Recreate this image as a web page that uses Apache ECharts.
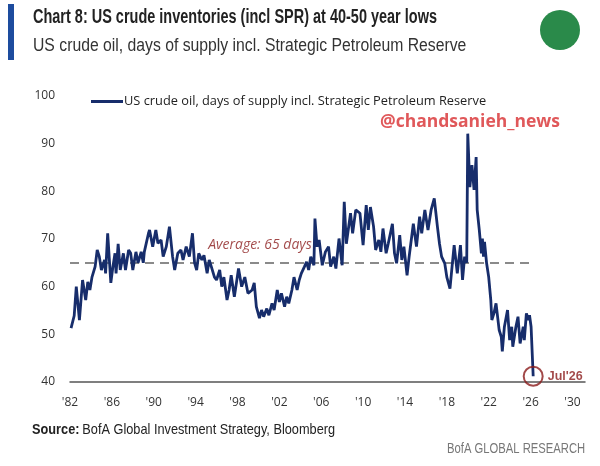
<!DOCTYPE html>
<html>
<head>
<meta charset="utf-8">
<script src="https://cdn.jsdelivr.net/npm/echarts@6/dist/echarts.min.js"></script>
<style>
html,body{margin:0;padding:0;background:#fff;}
#chart{width:600px;height:466px;}
</style>
</head>
<body>
<div id="chart"></div>
<script>
// ---- Data ----
const seriesName = "US crude oil, days of supply incl. Strategic Petroleum Reserve";
const startYear = 1982;
const tickYears = [1982, 1986, 1990, 1994, 1998, 2002, 2006, 2010, 2014, 2018, 2022, 2026, 2030];
const yTicks = [40, 50, 60, 70, 80, 90, 100];
const averageDays = 65;
const averageEndYear = 2026.3;
const endLabel = "Jul'26";

const years = [
  1982.1,1982.4,1982.6,1982.9,1983.2,1983.5,1983.7,1983.9,1984.1,1984.4,1984.6,1984.8,
  1985.0,1985.3,1985.4,1985.6,1985.9,1986.1,1986.3,1986.4,1986.6,1986.8,1987.1,1987.3,
  1987.6,1987.8,1988.0,1988.3,1988.5,1988.8,1989.0,1989.1,1989.5,1989.6,1989.9,1990.2,
  1990.4,1990.7,1990.9,1991.2,1991.5,1991.8,1992.0,1992.3,1992.6,1992.8,1993.1,1993.4,
  1993.7,1993.9,1994.1,1994.3,1994.6,1994.8,1995.1,1995.3,1995.5,1995.8,1996.0,1996.3,
  1996.5,1996.7,1997.0,1997.2,1997.4,1997.7,1997.9,1998.1,1998.4,1998.7,1999.0,1999.4,
  1999.6,1999.8,2000.1,2000.3,2000.5,2000.8,2001.0,2001.3,2001.5,2001.8,2002.0,2002.2,
  2002.5,2002.7,2002.9,2003.2,2003.4,2003.7,2003.9,2004.1,2004.4,2004.6,2004.8,2005.0,
  2005.3,2005.4,2005.6,2005.8,2006.1,2006.4,2006.7,2006.9,2007.2,2007.4,2007.7,2008.0,
  2008.2,2008.4,2008.8,2009.0,2009.3,2009.7,2010.0,2010.3,2010.5,2010.7,2011.0,2011.2,
  2011.5,2011.7,2011.9,2012.2,2012.4,2012.8,2013.0,2013.2,2013.5,2013.7,2013.9,2014.2,
  2014.4,2014.8,2015.1,2015.4,2015.6,2015.9,2016.2,2016.5,2016.8,2017.1,2017.3,2017.5,
  2017.8,2018.0,2018.3,2018.5,2018.7,2019.0,2019.3,2019.5,2019.7,2019.9,2020.0,2020.2,
  2020.4,2020.6,2020.8,2020.9,2021.1,2021.3,2021.4,2021.5,2021.6,2021.8,2022.0,2022.2,
  2022.3,2022.5,2022.7,2023.0,2023.2,2023.3,2023.5,2023.8,2024.0,2024.2,2024.3,2024.6,
  2024.8,2025.0,2025.3,2025.4,2025.6,2025.8,2025.9,2026.05,2026.25
];
const daysOfSupply = [
  51.3,53.9,60.0,53.0,61.4,57.2,61.0,59.3,62.0,64.2,67.7,66.3,
  63.5,65.6,62.8,71.2,60.8,64.2,67.0,62.8,69.0,63.5,67.0,63.5,
  67.7,67.0,63.5,67.3,65.0,67.3,65.0,67.3,71.2,71.9,68.4,71.9,
  69.1,69.8,66.3,68.4,72.6,66.3,63.5,67.0,67.7,65.6,68.4,66.3,
  71.2,65.0,63.5,67.0,65.6,66.6,62.8,65.6,64.2,62.0,61.4,63.5,
  60.0,62.0,57.2,59.3,62.4,57.9,60.8,63.8,60.0,62.0,58.6,59.3,
  60.8,55.8,53.4,55.1,53.7,55.4,54.0,56.5,55.1,59.3,56.8,58.6,
  55.8,57.9,56.5,59.3,62.0,59.3,61.4,62.8,64.2,65.2,63.5,66.3,
  64.5,74.3,68.4,69.8,64.5,67.3,68.4,64.2,66.3,63.8,70.1,64.5,
  77.8,69.0,75.4,71.2,76.1,75.4,68.7,77.1,71.9,76.7,72.6,67.7,
  69.8,67.3,72.2,67.0,69.0,73.2,67.0,64.9,70.8,65.6,68.4,62.4,
  66.3,73.2,68.4,74.7,71.2,76.1,71.9,76.1,78.5,72.6,69.0,66.3,
  64.9,62.0,59.6,64.2,68.7,62.8,68.7,61.4,66.3,65.0,92.1,80.9,
  85.5,80.3,87.2,76.1,71.9,67.0,70.1,66.3,69.4,64.9,62.0,57.2,
  53.0,54.4,56.5,50.9,49.5,46.4,51.6,55.1,48.8,51.6,47.4,51.6,
  53.7,48.1,51.6,48.8,54.4,53.0,54.0,51.6,41.2
];

// ---- Build chart ----
const toX = y => y - startYear;
const lineData = years.map((y, i) => [toX(y), daysOfSupply[i]]);
const last = lineData[lineData.length - 1];
const tickSet = new Set(tickYears.map(toX));

const sans = '"Liberation Sans", Arial, sans-serif';
const chart = echarts.init(document.getElementById('chart'), null, {renderer: 'canvas'});

chart.setOption({
  animation: false,
  backgroundColor: '#ffffff',
  grid: {left: 70, right: 15, top: 96, bottom: 84, containLabel: false},
  legend: {
    data: [seriesName],
    left: 86, top: 90,
    icon: 'rect', itemWidth: 32, itemHeight: 3, itemGap: 10,
    textStyle: {fontFamily: '"Open Sans", sans-serif', fontSize: 12.8, color: '#222', padding: [0,0,0,-4]}
  },
  xAxis: {
    type: 'value', min: 0, max: 49.2, interval: 4,
    axisLine: {show: true, lineStyle: {color: '#555', width: 1.5}},
    axisTick: {show: false},
    splitLine: {show: false},
    axisLabel: {
      margin: 15, fontSize: 12, color: '#333', fontFamily: '"Open Sans", sans-serif',
      showMaxLabel: false,
      formatter: v => tickSet.has(v) ? "'" + String((startYear + v) % 100).padStart(2, '0') : ''
    }
  },
  yAxis: {
    type: 'value', min: yTicks[0], max: yTicks[yTicks.length - 1], interval: 10,
    axisLine: {show: false}, axisTick: {show: false}, splitLine: {show: false},
    axisLabel: {margin: 15, fontSize: 12, color: '#333', fontFamily: '"Open Sans", sans-serif'}
  },
  series: [
    {
      name: seriesName, type: 'line', data: lineData,
      symbol: 'none', smooth: false,
      lineStyle: {color: '#172d6b', width: 2.8},
      itemStyle: {color: '#172d6b'},
      z: 3,
      markLine: {
        silent: true, symbol: 'none',
        lineStyle: {color: '#8a8a8a', type: [9, 6], width: 2},
        label: {show: false},
        data: [[{coord: [0, averageDays]}, {coord: [toX(averageEndYear), averageDays]}]],
        z: 2
      }
    },
    {
      type: 'scatter', data: [last], symbol: 'circle', symbolSize: 19,
      itemStyle: {color: 'rgba(0,0,0,0)', borderColor: '#8b1c1c', borderWidth: 2},
      label: {show: true, position: 'right', distance: 4, formatter: endLabel,
        color: '#8b1c1c', fontWeight: 'bold', fontSize: 12.5, fontFamily: sans},
      z: 4
    },
    {
      type: 'scatter', data: [[toX(1995.2), averageDays]], symbolSize: 0,
      label: {show: true, position: [0, -25], formatter: 'Average: 65 days',
        color: '#8b1c1c', fontStyle: 'italic', fontSize: 14, fontFamily: '"Open Sans", sans-serif'},
      z: 5
    }
  ],
  graphic: [
    {type: 'rect', left: 8, top: 4, shape: {width: 6, height: 56}, style: {fill: '#1d4c9e'}},
    {type: 'text', x: 33, y: 7, scaleX: 0.724, style: {text: 'Chart 8: US crude inventories (incl SPR) at 40-50 year lows',
      font: 'bold 20px ' + sans, fill: '#222'}},
    {type: 'text', x: 33, y: 37, scaleX: 0.9, style: {text: 'US crude oil, days of supply incl. Strategic Petroleum Reserve',
      font: '17.5px ' + sans, fill: '#333'}},
    {type: 'circle', shape: {cx: 560, cy: 30, r: 20}, style: {fill: '#2a8a4a'}},
    {type: 'text', x: 380, y: 113, style: {text: '@chandsanieh_news',
      font: 'bold 17.5px "Open Sans", sans-serif', fill: '#e0585a'}},
    {type: 'text', x: 32, y: 422, scaleX: 0.85, style: {
      rich: {b: {font: 'bold 15px ' + sans, fill: '#222'}, n: {font: '15px ' + sans, fill: '#222'}},
      text: '{b|Source:} {n|BofA Global Investment Strategy, Bloomberg}'}},
    {type: 'text', x: 447, y: 441, scaleX: 0.75, style: {text: 'BofA GLOBAL RESEARCH',
      font: '15px ' + sans, fill: '#777'}}
  ]
});
</script>
</body>
</html>
